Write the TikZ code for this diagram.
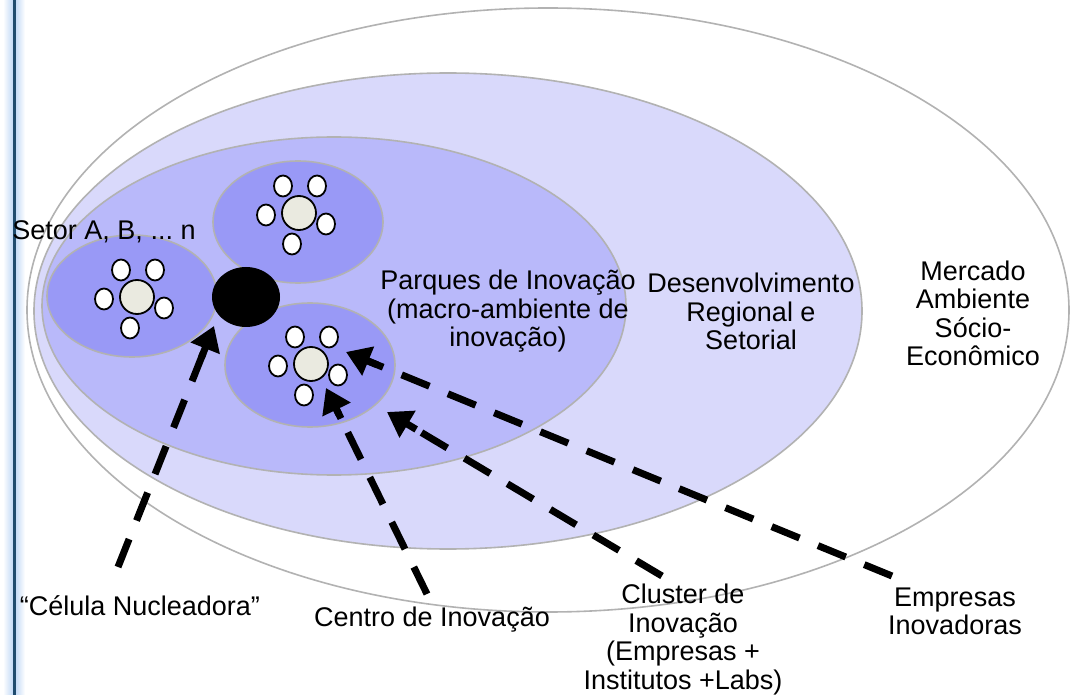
\documentclass[tikz,border=0pt]{standalone}
\usepackage{fontspec}
\setmainfont{Liberation Sans}
\usetikzlibrary{arrows.meta,calc}
\definecolor{ringgray}{RGB}{178,178,178}
\definecolor{lavA}{RGB}{217,217,251}
\definecolor{lavB}{RGB}{185,185,250}
\definecolor{lavC}{RGB}{153,153,246}
\definecolor{coreclr}{RGB}{234,234,224}
\definecolor{bardark}{RGB}{30,75,110}
\definecolor{barglow}{RGB}{185,212,245}
\tikzset{
  ring/.style={draw=ringgray, line width=1.6pt},
  lbl/.style={align=center, inner sep=0pt, font=\frenchspacing\fontsize{27}{28.5}\selectfont},
  arrline/.style={line width=7pt, dash pattern=on 30pt off 20pt},
  arrtip/.style={line width=7pt, -{Triangle[length=24pt,width=30pt]}},
  cluster/.pic={
    \draw[line width=1.8pt, fill=coreclr] (0,0) circle [radius=17pt];
    \foreach \dx/\dy in {-16/-27, 18/-27, -33/2, 27/11, -7/31}
      \draw[line width=1.8pt, fill=white] (\dx,\dy) ellipse [x radius=9pt, y radius=10.5pt];
  }
}
\begin{document}
\begin{tikzpicture}[x=1pt,y=-1pt]
\useasboundingbox (0,0) rectangle (1072,695);
% left bar
\shade[left color=white, right color=barglow] (3,0) rectangle (14,695);
\shade[left color=barglow, right color=white] (14,0) rectangle (25,695);
\draw[bardark, line width=3pt] (14,0) -- (14,695);
% nested environments
\draw[ring, fill=white] (548,310) ellipse [x radius=521pt, y radius=302pt];
\draw[ring, fill=lavA] (448,311) ellipse [x radius=414pt, y radius=238pt];
\draw[ring, fill=lavB] (334,306) ellipse [x radius=292pt, y radius=169pt];
% sectors
\draw[ring, fill=lavC] (132,296) ellipse [x radius=85pt, y radius=61pt];
\draw[ring, fill=lavC] (298,222) ellipse [x radius=85pt, y radius=61pt];
\draw[ring, fill=lavC] (310,365) ellipse [x radius=85pt, y radius=62pt];
% nucleating cell
\fill[black] (246,297) ellipse [x radius=34pt, y radius=30pt];
% clusters
\pic at (137,297) {cluster};
\pic at (299,213) {cluster};
\pic at (311,364) {cluster};
% labels
\node[lbl] (setor) at (104,232) {Setor A, B, ... n};
\node[lbl] (parques) at (508,311.5) {Parques de Inovação\\(macro-ambiente de\\inovação)};
\node[lbl] (desenv) at (751,311.5) {Desenvolvimento\\Regional e\\Setorial};
\node[lbl] (mercado) at (973,313.5) {Mercado\\Ambiente\\Sócio-\\Econômico};
\node[lbl] (celula) at (140,606) {“Célula Nucleadora”};
\node[lbl] (centro) at (432,620) {Centro de Inovação};
\node[lbl] (cluster) at (683,639.5) {Cluster de\\Inovação\\(Empresas +\\Institutos +Labs)};
\node[lbl] (empresas) at (955,611.5) {Empresas\\Inovadoras};
% arrow endpoints
\coordinate (a1s) at (118,567);
\coordinate (a1e) at (214,326);
\coordinate (a2s) at (427,594);
\coordinate (a2e) at (326,388);
\coordinate (a3s) at (662,576);
\coordinate (a3e) at (387,412);
\coordinate (a4s) at (892,576);
\coordinate (a4e) at (346,352);
\foreach \s/\e in {a1s/a1e, a2s/a2e, a3s/a3e, a4s/a4e}{
  \draw[arrline] (\s) -- ($(\e)!22pt!(\s)$);
  \draw[arrtip] ($(\e)!34pt!(\s)$) -- (\e);
}
\end{tikzpicture}
\end{document}
